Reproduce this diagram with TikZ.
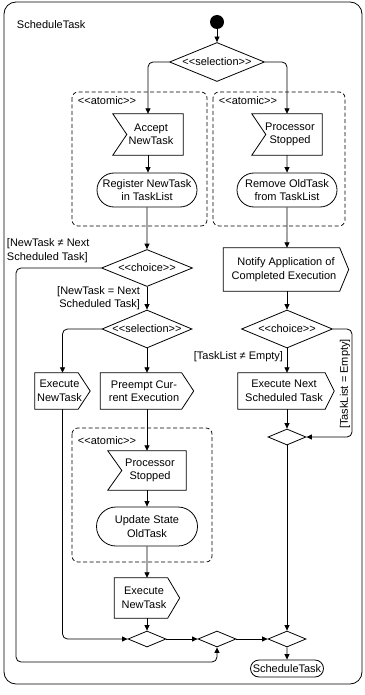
\documentclass[tikz,border=0pt]{standalone}
\usepackage{fontspec}
\setmainfont{Liberation Sans}
\usetikzlibrary{shapes.geometric,shapes.misc,arrows.meta}

\newcommand{\stereo}[1]{<\kern0pt<#1>\kern0pt>}
% outlines of signal boxes, drawn round a named node
\newcommand{\sendout}[2][12]{\draw[shapeline] (#2.north west) -- ([xshift=-#1pt]#2.north east) -- (#2.east) -- ([xshift=-#1pt]#2.south east) -- (#2.south west) -- cycle;}
\newcommand{\recvout}[2][14]{\draw[shapeline] (#2.north west) -- (#2.north east) -- (#2.south east) -- (#2.south west) -- ([xshift=#1pt]#2.west) -- cycle;}

\begin{document}
\begin{tikzpicture}[x=1pt,y=1pt,yscale=-1,
    font=\fontsize{11}{13.5}\selectfont,
    every node/.style={inner sep=0.75pt},
    shapeline/.style={line width=0.8pt},
    flow/.style={draw,line width=0.8pt,rounded corners=5pt,-{Triangle[length=5.5pt,width=5pt]}},
    region/.style={draw,line width=0.7pt,dash pattern=on 4pt off 2.5pt,rounded corners=6pt},
    actbox/.style={draw,line width=0.8pt,rounded rectangle,align=center,inner xsep=5pt,minimum height=34},
    sigbox/.style={rectangle,inner sep=0pt,align=center,minimum height=36},
    decide/.style={draw,line width=0.8pt,diamond,aspect=2.5,inner sep=0pt},
    merge/.style={draw,line width=0.8pt,diamond,inner sep=0pt,minimum width=38,minimum height=16}
  ]
  \useasboundingbox (0,0) rectangle (364,695);
  % frame
  \draw[line width=0.8pt,rounded corners=12pt] (4,2) rectangle (362,684);
  \node[anchor=west] (title) at (16,25) {ScheduleTask};

  \node[fill,circle,inner sep=0pt,minimum size=14] (start) at (217,22) {};
  \node[decide,minimum width=95,minimum height=39] (sel1) at (217,62) {\stereo{selection}};

  % atomic regions
  \draw[region] (72,92) rectangle (207,226);
  \node[anchor=west] (atomL) at (77,101) {\stereo{atomic}};
  \draw[region] (213,92) rectangle (345,226);
  \node[anchor=west] (atomR) at (218,101) {\stereo{atomic}};
  \draw[region] (72,428) rectangle (212,562);
  \node[anchor=west] (atomC) at (77,441) {\stereo{atomic}};

  % actions
  \node[sigbox,minimum width=70,minimum height=41] (accept) at (148,134.5) {\hspace*{6pt}Accept\\\hspace*{6pt}NewTask};
  \recvout{accept}
  \node[sigbox,minimum width=70,minimum height=41] (stopA) at (287,134.5) {\hspace*{6pt}Processor\\\hspace*{6pt}Stopped};
  \recvout{stopA}
  \node[actbox,minimum width=110] (register) at (147,190) {Register NewTask\\in TaskList};
  \node[actbox,minimum width=110] (remove) at (287,190) {Remove OldTask\\from TaskList};
  \node[decide,minimum width=91,minimum height=37] (choiceL) at (147,268) {\stereo{choice}};
  \node[sigbox,minimum width=125,minimum height=43] (notify) at (286,269.5) {Notify Application of\\Completed Execution\hspace*{4pt}};
  \sendout[9]{notify}
  \node[decide,minimum width=90,minimum height=38] (sel2) at (147,329) {\stereo{selection}};
  \node[decide,minimum width=91,minimum height=38] (choiceR) at (287,329) {\stereo{choice}};
  \node[sigbox,minimum width=55] (execA) at (62.5,391) {Execute\hspace*{6pt}\\NewTask\hspace*{6pt}};
  \sendout{execA}
  \node[sigbox,minimum width=93] (preempt) at (147,391) {Preempt Cur-\hspace*{6pt}\\rent Execution\hspace*{6pt}};
  \sendout{preempt}
  \node[sigbox,minimum width=96] (execNext) at (286,391) {Execute Next\hspace*{4pt}\\Scheduled Task\hspace*{4pt}};
  \sendout[9]{execNext}
  \node[merge] (mergeR) at (287,437) {};
  \node[sigbox,minimum width=78,minimum height=39] (stopB) at (147,470.5) {\hspace*{6pt}Processor\\\hspace*{6pt}Stopped};
  \recvout{stopB}
  \node[actbox,minimum width=111,minimum height=39] (update) at (147,526.5) {Update State\\OldTask};
  \node[sigbox,minimum width=65,minimum height=40] (execB) at (147,598) {Execute\hspace*{6pt}\\NewTask\hspace*{6pt}};
  \sendout{execB}
  \node[merge] (m1) at (147,639) {};
  \node[merge] (m2) at (217,639) {};
  \node[merge] (m3) at (287,639) {};
  \node[actbox,minimum width=83,minimum height=17,inner ysep=0pt] (done) at (287,668.5) {ScheduleTask};

  \coordinate (bendE) at (352,380);
  \coordinate (bendW) at (16,662);

  % guards
  \node[anchor=north west,align=left] (grdNe) at (6,238) {[NewTask ≠ Next\\Scheduled Task]};
  \node[anchor=east,align=right] (grdEq) at (141,298) {[NewTask = Next\\Scheduled Task]};
  \node[anchor=east] (grdFull) at (284,357) {[TaskList ≠ Empty]};
  \node[rotate=90] (grdEmpty) at (345,384) {[TaskList = Empty]};

  % flows
  \draw[flow] (start) -- (sel1);
  \draw[flow] (sel1.west) -| (accept.north);
  \draw[flow] (sel1.east) -| (stopA.north);
  \draw[flow] (accept) -- (accept |- register.north);
  \draw[flow] (stopA) -- (remove);
  \draw[flow] (register) -- (choiceL);
  \draw[flow] (remove) -- (remove |- notify.north);
  \draw[flow] (notify.south -| choiceR) -- (choiceR);
  \draw[flow] (choiceR) -- (choiceR |- execNext.north);
  \draw[flow] (choiceR.east) -| (bendE) |- (mergeR.east);
  \draw[flow] (execNext.south -| mergeR) -- (mergeR);
  \draw[flow] (mergeR) -- (m3);
  \draw[flow] (choiceL) -- (sel2);
  \draw[flow] (choiceL.west) -| (bendW) -| (m2.south);
  \draw[flow] (sel2.west) -| (execA.north);
  \draw[flow] (sel2) -- (preempt);
  \draw[flow] (preempt) -- (stopB);
  \draw[flow] (stopB) -- (update);
  \draw[flow] (update) -- (execB);
  \draw[flow] (execB) -- (m1);
  \draw[flow] (execA.south) |- (m1.west);
  \draw[flow] (m1) -- (m2);
  \draw[flow] (m2) -- (m3);
  \draw[flow] (m3) -- (done);
\end{tikzpicture}
\end{document}
